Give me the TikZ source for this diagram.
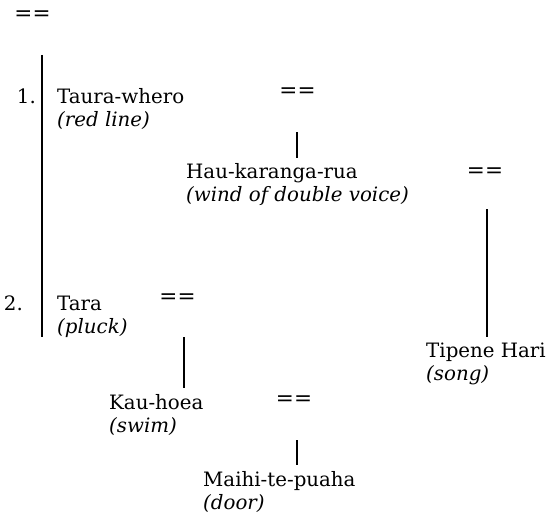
\documentclass[tikz,border=0pt]{standalone}
\usepackage{fontspec}
\setmainfont{DejaVu Serif}

\begin{document}
\begin{tikzpicture}[x=1pt, y=-1pt,
	every node/.style={inner sep=0pt, font=\fontsize{19.8}{23.5}\selectfont},
	person/.style={anchor=base west, align=left},
	wed/.style={anchor=center, font=\fontsize{21.5}{24}\selectfont},
	descent/.style={line width=1.6pt}]
	\useasboundingbox (0,0) rectangle (553,524);
	\node[wed] (eq0) at (32.5,15.5) {==};
	\node[anchor=base east] (num1) at (36,103) {1.};
	\node[anchor=base east] (num2) at (23,310) {2.};
	\node[person] (taura) at (57,126.5) {Taura-whero\\\textit{(red line)}};
	\node[person] (tara) at (57,333.5) {Tara\\\textit{(pluck)}};
	\node[wed] (eqA) at (297.5,92.5) {==};
	\node[person] (hau) at (186,201.5) {Hau-karanga-rua\\\textit{(wind of double voice)}};
	\node[wed] (eqB) at (485,172.5) {==};
	\node[person] (tipene) at (426,380.5) {Tipene Hari\\\textit{(song)}};
	\node[wed] (eqC) at (177.5,298.5) {==};
	\node[person] (kau) at (109,432.5) {Kau-hoea\\\textit{(swim)}};
	\node[wed] (eqD) at (294,400.5) {==};
	\node[person] (maihi) at (203,509.5) {Maihi-te-puaha\\\textit{(door)}};
	\coordinate (wivesT) at (42,55);
	\coordinate (wivesB) at (42,337);
	\coordinate (hauT) at (297,132);
	\coordinate (hauB) at (297,158);
	\coordinate (tipeneT) at (487,209);
	\coordinate (tipeneB) at (487,337);
	\coordinate (kauT) at (184,337);
	\coordinate (kauB) at (184,388);
	\coordinate (maihiT) at (297,440);
	\coordinate (maihiB) at (297,465);
	\draw[descent] (wivesT) -- (wivesB);
	\draw[descent] (hauT) -- (hauB);
	\draw[descent] (tipeneT) -- (tipeneB);
	\draw[descent] (kauT) -- (kauB);
	\draw[descent] (maihiT) -- (maihiB);
\end{tikzpicture}
\end{document}
